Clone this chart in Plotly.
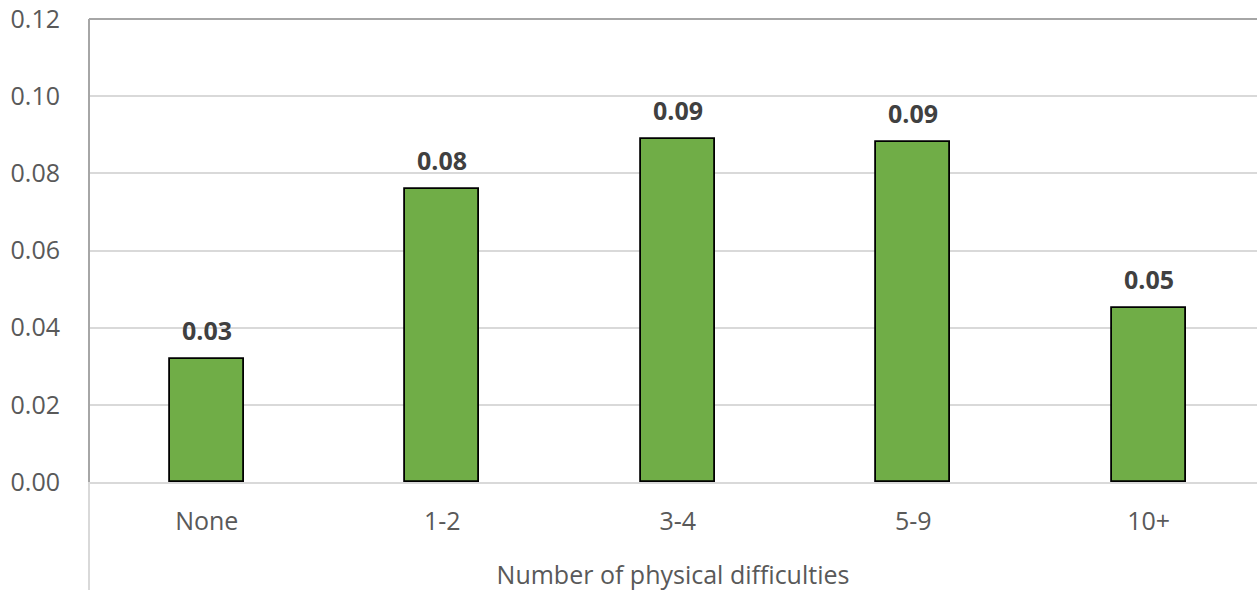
import plotly.graph_objects as go

categories = ["None", "1-2", "3-4", "5-9", "10+"]
values = [0.032, 0.076, 0.089, 0.088, 0.0452]
y_ticks = [0.00, 0.02, 0.04, 0.06, 0.08, 0.10, 0.12]

FONT = "Open Sans"

fig = go.Figure(
    go.Bar(
        x=categories,
        y=values,
        width=0.314,
        marker=dict(color="#70AD47", line=dict(color="#000000", width=1.8)),
    )
)

# value labels above each bar
for cat, val in zip(categories, values):
    fig.add_annotation(
        x=cat, y=val, text=f"{val:.2f}", showarrow=False,
        yanchor="middle", yshift=29,
        font=dict(family=FONT, size=25, color="#404040", weight="bold"),
    )

fig.update_layout(
    width=1257,
    height=591,
    margin=dict(l=89, r=0, t=19, b=109),
    paper_bgcolor="white",
    plot_bgcolor="white",
    showlegend=False,
    font=dict(family=FONT, color="#595959"),
    bargap=0,
)

fig.update_xaxes(
    type="category",
    range=[-0.5, 4.46],
    showgrid=False,
    showline=True,
    linecolor="#d9d9d9",
    linewidth=2,
    ticks="",
    ticklabelstandoff=16,
    tickfont=dict(family=FONT, size=25, color="#595959"),
    title=dict(
        text="Number of physical difficulties",
        font=dict(family=FONT, size=25, color="#595959"),
        standoff=30,
    ),
)

fig.update_yaxes(
    range=[0, 0.12],
    tickvals=y_ticks,
    tickformat=".2f",
    showgrid=True,
    gridcolor="#d9d9d9",
    gridwidth=2,
    zeroline=False,
    showline=False,
    ticks="",
    ticklabelstandoff=28,
    tickfont=dict(family=FONT, size=25, color="#595959"),
)

# plot-area border on the top and left, and the axis line continuing below
fig.add_shape(type="line", xref="paper", yref="paper", x0=0, x1=1, y0=1, y1=1,
              line=dict(color="#a6a6a6", width=2))
fig.add_shape(type="line", xref="paper", yref="paper", x0=0, x1=0, y0=0, y1=1,
              line=dict(color="#a6a6a6", width=2))
fig.add_shape(type="line", xref="paper", yref="paper", x0=0, x1=0, y0=0, y1=-0.233,
              line=dict(color="#d9d9d9", width=2))

fig.write_html("out.html")
